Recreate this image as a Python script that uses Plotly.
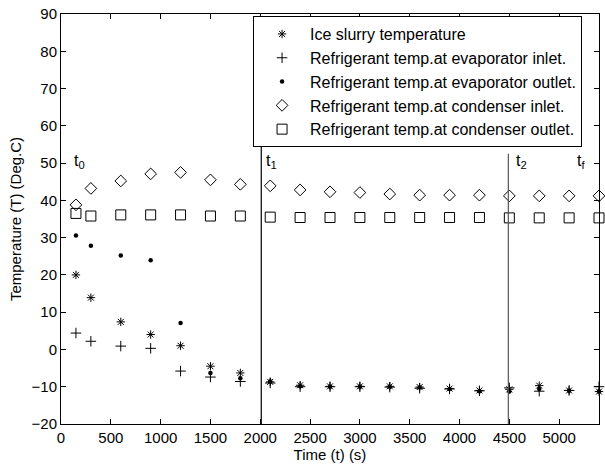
import plotly.graph_objects as go

# ---- data ----
time_s = [150, 300, 600, 900, 1200, 1500, 1800, 2100, 2400, 2700, 3000,
          3300, 3600, 3900, 4200, 4500, 4800, 5100, 5400]
ice_slurry = [20.0, 13.9, 7.4, 4.0, 1.0, -4.5, -6.3, -8.7, -9.6, -9.9, -9.9,
              -9.9, -10.1, -10.5, -11.0, -10.7, -9.7, -11.0, -11.3]
evap_inlet = [4.4, 2.2, 0.9, 0.3, -5.8, -7.4, -8.6, -9.0, -10.0, -10.0, -10.0,
              -10.1, -10.4, -10.6, -11.1, -10.3, -11.2, -11.0, -10.0]
evap_outlet = [30.6, 27.8, 25.2, 23.9, 7.1, -6.3, -7.7, -8.6, -9.9, -10.0, -10.0,
               -10.0, -10.2, -10.6, -11.2, -11.3, -10.6, -11.1, -11.3]
cond_inlet = [38.8, 43.2, 45.2, 47.1, 47.5, 45.5, 44.3, 43.9, 42.8, 42.3, 42.1,
              41.7, 41.4, 41.4, 41.4, 41.2, 41.2, 41.2, 41.2]
cond_outlet = [36.5, 35.8, 36.1, 36.1, 36.1, 35.8, 35.8, 35.5, 35.4, 35.4, 35.4,
               35.4, 35.4, 35.4, 35.4, 35.3, 35.3, 35.3, 35.3]

series_names = ["Ice slurry temperature",
                "Refrigerant temp.at evaporator inlet.",
                "Refrigerant temp.at evaporator outlet.",
                "Refrigerant temp.at condenser inlet.",
                "Refrigerant temp.at condenser outlet."]

event_times = [2010, 4490]
event_tops = [54.8, 52.5]
event_colors = ["#000000", "#555555"]

phase_labels = ["t<sub>0</sub>", "t<sub>1</sub>", "t<sub>2</sub>", "t<sub>f</sub>"]
phase_label_x = [190, 2110, 4620, 5220]
phase_label_y = [50.5, 50.5, 50.5, 50.5]

x_ticks = list(range(0, 5001, 500))
y_ticks = list(range(-20, 91, 10))

FONT = "Liberation Sans, Arial, sans-serif"

fig = go.Figure()

styles = [
    dict(symbol="asterisk-open", size=7, line=dict(color="black", width=1), color="black"),
    dict(symbol="cross-thin-open", size=7.5, line=dict(color="black", width=1), color="black"),
    dict(symbol="circle", size=4.5, color="black", line=dict(width=0)),
    dict(symbol="diamond-open", size=9, line=dict(color="black", width=1), color="black"),
    dict(symbol="square-open", size=10, line=dict(color="black", width=1), color="black"),
]
ys = [ice_slurry, evap_inlet, evap_outlet, cond_inlet, cond_outlet]
for name, y, st in zip(series_names, ys, styles):
    fig.add_trace(go.Scatter(x=time_s, y=y, mode="markers", name=name,
                             marker=st, cliponaxis=False))

for t, top, c in zip(event_times, event_tops, event_colors):
    fig.add_shape(type="line", xref="x", yref="y", x0=t, x1=t, y0=-20, y1=top,
                  line=dict(color=c, width=1.2))

for lab, lx, ly in zip(phase_labels, phase_label_x, phase_label_y):
    fig.add_annotation(x=lx, y=ly, xref="x", yref="y", text=lab, showarrow=False,
                       font=dict(size=16, color="#000000", family=FONT),
                       xanchor="center", yanchor="middle")

axis_common = dict(showline=True, linecolor="black", linewidth=1, mirror="ticks",
                   ticks="inside", ticklen=5, tickcolor="black", tickwidth=1,
                   showgrid=False, zeroline=False,
                   tickfont=dict(size=15, color="black", family=FONT),
                   title_font=dict(size=15, color="black", family=FONT))

fig.update_xaxes(range=[0, 5400], tickvals=x_ticks, title_text="Time (t) (s)",
                 title_standoff=4, **axis_common)
fig.update_yaxes(range=[-20, 90], tickvals=y_ticks,
                 title_text="Temperature (T) (Deg.C)", title_standoff=6, **axis_common)

fig.update_layout(
    width=605, height=471,
    margin=dict(l=61, r=5, t=11, b=47),
    paper_bgcolor="white", plot_bgcolor="white",
    font=dict(family=FONT, size=15, color="black"),
    showlegend=True,
    legend=dict(x=0.9685, y=0.995, xanchor="right", yanchor="top",
                bordercolor="black", borderwidth=1, bgcolor="white",
                font=dict(size=16, color="black", family=FONT),
                itemwidth=46, tracegroupgap=0),
)

fig.write_html("out.html")
